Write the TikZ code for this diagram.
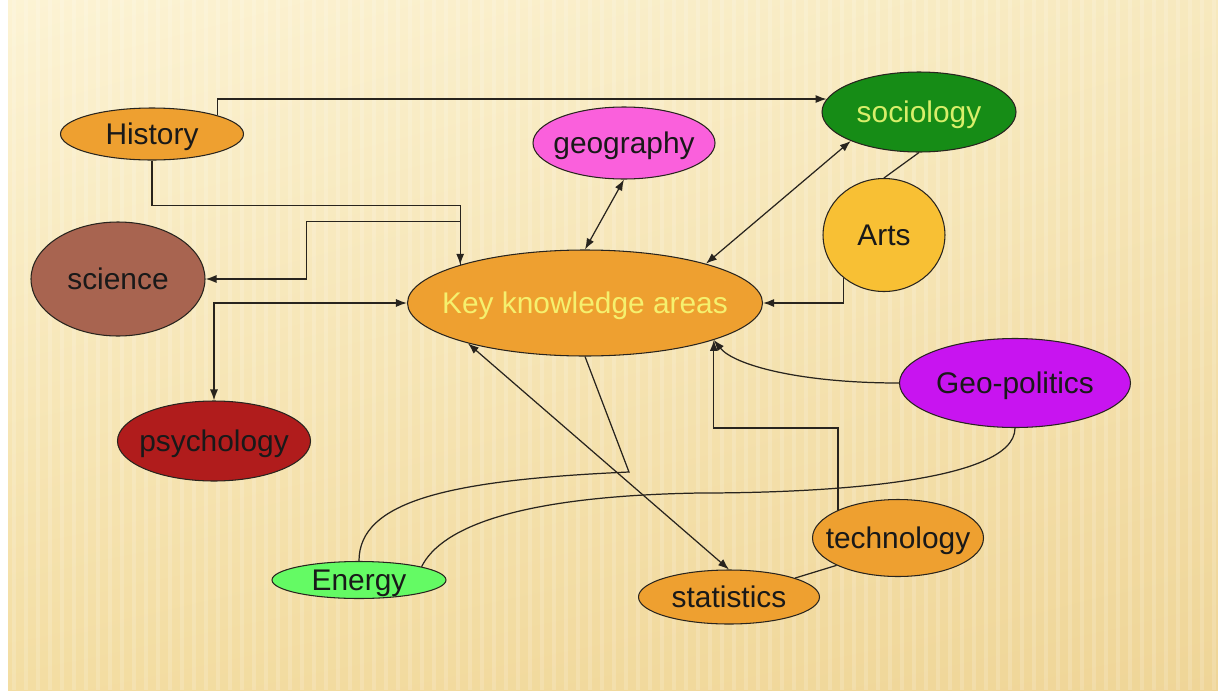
\documentclass[tikz,border=0pt]{standalone}
\usepackage{fontspec}
\setmainfont{Liberation Sans}
\usetikzlibrary{shapes.geometric,arrows.meta,calc,shadings}
\definecolor{bgTL}{RGB}{252,243,212}
\definecolor{bgTR}{RGB}{247,233,190}
\definecolor{bgBL}{RGB}{243,221,162}
\definecolor{bgBR}{RGB}{239,213,151}
\definecolor{orangeN}{RGB}{238,160,48}
\definecolor{brownN}{RGB}{168,100,80}
\definecolor{redN}{RGB}{176,28,28}
\definecolor{pinkN}{RGB}{250,96,220}
\definecolor{greenN}{RGB}{22,140,22}
\definecolor{artsN}{RGB}{248,192,52}
\definecolor{purpleN}{RGB}{200,20,240}
\definecolor{energyN}{RGB}{100,250,100}
\definecolor{keyText}{RGB}{245,240,110}
\definecolor{socText}{RGB}{216,238,106}
\definecolor{lineC}{RGB}{40,36,30}
\newcommand\zw[1]{\makebox[0pt]{#1}}
\begin{document}
\begin{tikzpicture}[x=0.02cm,y=-0.02cm,
  bubble/.style={ellipse, draw=lineC, line width=0.6pt, inner sep=0pt, text=black!90,
                 font=\fontsize{17}{20}\selectfont, text height=12.2pt, text depth=0pt},
  sz/.style 2 args={minimum width=#1*0.02cm, minimum height=#2*0.02cm},
  link/.style={draw=lineC, line width=0.7pt},
  arr/.style={link, -{Latex[length=2.2mm,width=1.6mm]}},
  darr/.style={link, {Latex[length=2.2mm,width=1.6mm]}-{Latex[length=2.2mm,width=1.6mm]}}]
\useasboundingbox (0,0) rectangle (1218,697);
% background
\fill[white] (0,0) rectangle (1218,697);
\shade[upper left=bgTL, upper right=bgTR, lower left=bgBL, lower right=bgBR] (8,0) rectangle (1218,690);
\foreach \x in {14,26,...,1214} \draw[white, opacity=0.16, line width=2.4pt] (\x,0) -- (\x,690);

% nodes
\node[bubble, sz={183}{52}, fill=orangeN] (history) at (152,134) {\zw{History}};
\node[bubble, sz={182}{72}, fill=pinkN] (geography) at (624,143) {\zw{geography}};
\node[bubble, sz={194}{80}, fill=greenN, text=socText] (sociology) at (919,112) {\zw{sociology}};
\node[bubble, sz={122}{113}, fill=artsN] (arts) at (884,235) {\zw{Arts}};
\node[bubble, sz={174}{114}, fill=brownN] (science) at (118,279) {\zw{science}};
\node[bubble, sz={355}{106}, fill=orangeN, text=keyText] (key) at (585,303) {\zw{Key knowledge areas}};
\node[bubble, sz={231}{89}, fill=purpleN] (geopol) at (1015,383) {\zw{Geo-politics}};
\node[bubble, sz={193}{80}, fill=redN] (psychology) at (214,441) {\zw{psychology}};
\node[bubble, sz={171}{77}, fill=orangeN] (technology) at (898,538) {\zw{technology}};
\node[bubble, sz={181}{54}, fill=orangeN] (statistics) at (729,597) {\zw{statistics}};
\node[bubble, sz={174}{37}, fill=energyN] (energy) at (359,580) {\zw{Energy}};

\coordinate (ecorner) at (629,472);
\coordinate (gmid) at (700,493);

% connectors
\draw[arr] (history.16) |- (sociology.172);
\draw[arr] (history.south) -- ++(0,45) -| (key.163);
\draw[arr] (key.163) -- ++(0,-43) -- ++(-154,0) |- (science.east);
\draw[darr] (key.west) -| (psychology.north);
\draw[darr] (geography.south) -- (key.north);
\draw[darr] (sociology.203) -- (key.18);
\draw[link] (sociology.south) -- (arts.north);
\draw[arr] (arts.227) |- (key.east);
\draw[arr] (geopol.west) .. controls +(-100,0) and +(20,25) .. (key.-16);
\draw[arr] (technology.155) -- ++(0,-82) -| (key.-16);
\draw[link] (statistics.16) -- (technology.204);
\draw[darr] (key.199) -- (statistics.north);
\draw[link] (key.south) -- (ecorner) .. controls +(-180,8) and +(0,-60) .. (energy.north);
\draw[link] (geopol.south) .. controls +(0,55) and +(120,0) .. (gmid)
  .. controls +(-180,3) and +(20,-40) .. (energy.12);
\end{tikzpicture}
\end{document}
